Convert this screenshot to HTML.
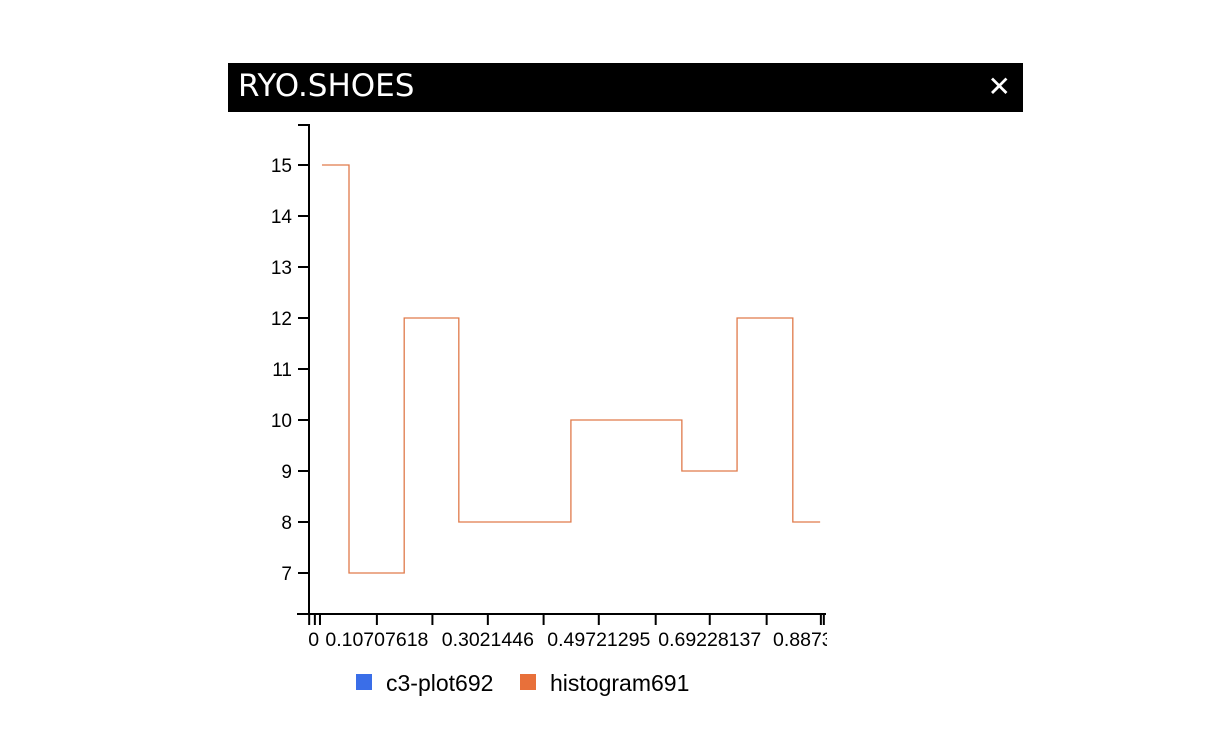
<!DOCTYPE html>
<html><head><meta charset="utf-8"><style>
body{margin:0;background:#fff;width:1224px;height:736px;overflow:hidden;font-family:"Liberation Sans",sans-serif}
#hdr{position:absolute;left:228px;top:63px;width:795px;height:49px;background:#000}
#title{position:absolute;left:10px;top:5px;color:#fff;font-family:"DejaVu Sans",sans-serif;font-size:31px}
#close{position:absolute;right:12px;top:9px;color:#fff;font-size:28px;line-height:30px}
svg{position:absolute;left:0;top:0}
</style></head><body>
<div id="hdr">
<div id="title">RYO.SHOES</div>
<div id="close">✕</div>
</div>
<svg id="chart" width="1224" height="736">
<defs><clipPath id="xc"><rect x="290" y="620" width="537" height="40"/></clipPath></defs>
</svg>
<script>
const binEdges=[0.0105,0.058,0.155,0.251,0.448,0.643,0.740,0.838,0.886];
const binCounts=[15,7,12,8,10,9,12,8];
const yTicks=[7,8,9,10,11,12,13,14,15];
const xTicks=[-0.012,-0.002,0.007,0.107,0.2046,0.302,0.40,0.497,0.597,0.692,0.792,0.8873,0.8925];
const xLabelVals=[-0.004,0.107,0.302,0.497,0.692,0.8873];
const xLabels=["0","0.10707618","0.3021446","0.49721295","0.69228137","0.8873"];
const legendNames=["c3-plot692","histogram691"];
const NS="http://www.w3.org/2000/svg";
const svg=document.getElementById('chart');
const X=v=>316+v*569;
const Y=v=>573-(v-7)*51;
function mk(t,a,par){const e=document.createElementNS(NS,t);for(const k in a)e.setAttribute(k,a[k]);(par||svg).appendChild(e);return e;}
let ya=mk('line',{x1:309,y1:124,x2:309,y2:614,stroke:'#000','stroke-width':2});


let yt=mk('line',{x1:298,y1:125,x2:309,y2:125,stroke:'#000','stroke-width':2});


yTicks.forEach(v=>{
 const l=mk('line',{x1:298,y1:Y(v),x2:309,y2:Y(v),stroke:'#000','stroke-width':2});
 
 
 const t=mk('text',{x:292,y:Y(v)+7,'text-anchor':'end','font-size':19});
 t.textContent=v;
 
 
});
let xa=mk('line',{x1:297,y1:614,x2:826,y2:614,stroke:'#000','stroke-width':2});


xTicks.forEach(v=>{
 const l=mk('line',{x1:X(v),y1:614,x2:X(v),y2:625,stroke:'#000','stroke-width':2});
 
 
});
const g=mk('g',{'clip-path':'url(#xc)'});


xLabels.forEach((s,i)=>{
 const last=i===xLabels.length-1;
 const t=mk('text',{x:last?773:X(xLabelVals[i]),y:646,'text-anchor':last?'start':'middle','font-size':19.5},g);
 t.textContent=s;
 
 
});
let d='';
binCounts.forEach((c,i)=>{
 d+=(i===0?'M':'L')+X(binEdges[i])+','+Y(c)+'L'+X(binEdges[i+1])+','+Y(c);
});
const p=mk('path',{d:d,fill:'none',stroke:'#e07a4a','stroke-width':1.3});


const cols=['#3a6ee8','#e8703a'];const lx=[356,520];
legendNames.forEach((n,i)=>{
 const r=mk('rect',{x:lx[i],y:674,width:16,height:16,fill:cols[i]});
 
 
 const t=mk('text',{x:lx[i]+30,y:691,'font-size':23});
 t.textContent=n;
 
 
});
</script>
</body></html>
